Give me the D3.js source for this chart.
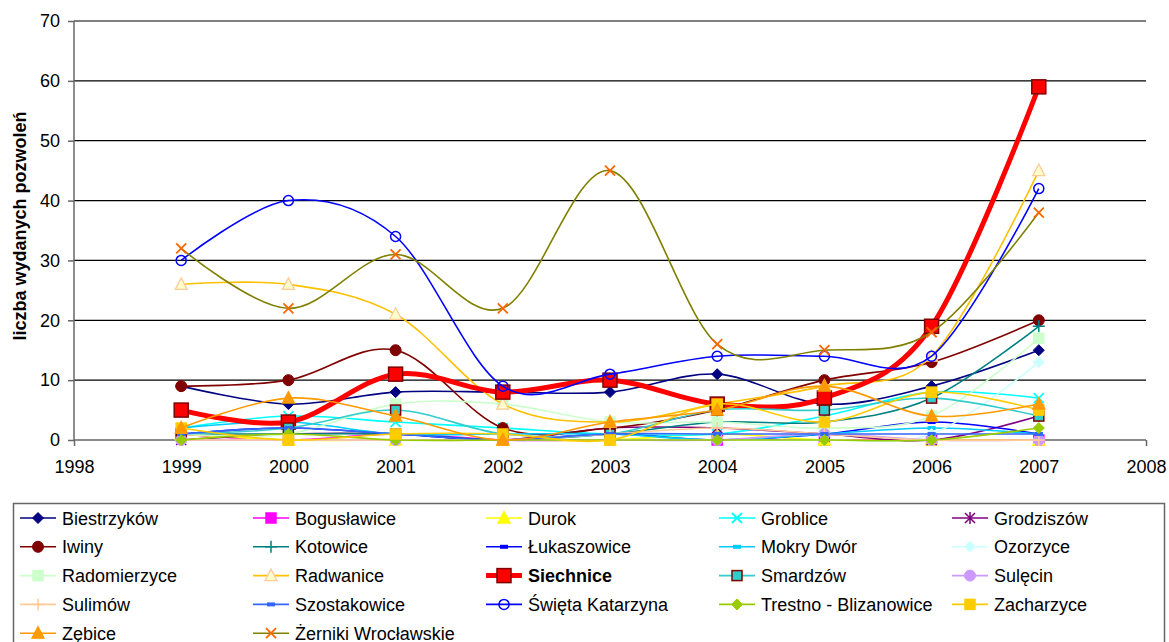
<!DOCTYPE html>
<html>
<head>
<meta charset="utf-8">
<script src="https://cdn.jsdelivr.net/npm/d3@7"></script>
<style>
  body { margin: 0; background: #fff; }
  svg { font-family: "Liberation Sans", Arial, sans-serif; }
</style>
</head>
<body>
<div id="chart"></div>
<script>
// lata na osi X i podpisy osi
const years = [1999, 2000, 2001, 2002, 2003, 2004, 2005, 2006, 2007];
const xTicks = [1998, 1999, 2000, 2001, 2002, 2003, 2004, 2005, 2006, 2007, 2008];
const yTicks = [0, 10, 20, 30, 40, 50, 60, 70];

const names = [
  "Biestrzyków", "Bogusławice", "Durok", "Groblice", "Grodziszów",
  "Iwiny", "Kotowice", "Łukaszowice", "Mokry Dwór", "Ozorzyce",
  "Radomierzyce", "Radwanice", "Siechnice", "Smardzów", "Sulęcin",
  "Sulimów", "Szostakowice", "Święta Katarzyna", "Trestno - Blizanowice", "Zacharzyce",
  "Zębice", "Żerniki Wrocławskie"
];

// liczba wydanych pozwoleń, 1999-2007
const biestrzykow   = [9, 6, 8, 8, 8, 11, 6, 9, 15];
const boguslawice   = [1, 0, 1, 0, 0, 0, 0, 0, 0];
const durok         = [1, 0, 0, 0, 0, 1, 0, 0, 0];
const groblice      = [2, 4, 3, 2, 1, 1, 4, 8, 7];
const grodziszow    = [0, 1, 1, 0, 2, 2, 1, 0, 4];
const iwiny         = [9, 10, 15, 2, 2, 5, 10, 13, 20];
const kotowice      = [1, 1, 1, 0, 1, 3, 3, 7, 19];
const lukaszowice   = [1, 2, 1, 0, 1, 0, 1, 3, 1];
const mokryDwor     = [2, 3, 1, 1, 1, 0, 1, 2, 1];
const ozorzyce      = [0, 0, 0, 0, 0, 0, 0, 1, 13];
const radomierzyce  = [1, 1, 6, 6, 3, 3, 2, 4, 17];
const radwanice     = [26, 26, 21, 6, 3, 6, 9, 14, 45];
const siechnice     = [5, 3, 11, 8, 10, 6, 7, 19, 59];
const smardzow      = [1, 2, 5, 1, 1, 5, 5, 7, 4];
const sulecin       = [0, 0, 0, 0, 0, 0, 1, 0, 0];
const sulimow       = [0, 0, 0, 0, 1, 2, 1, 0, 0];
const szostakowice  = [1, 2, 1, 0, 1, 1, 1, 1, 1];
const swietaKat     = [30, 40, 34, 9, 11, 14, 14, 14, 42];
const trestno       = [0, 1, 0, 0, 0, 0, 0, 0, 2];
const zacharzyce    = [2, 0, 1, 1, 0, 6, 3, 8, 5];
const zebice        = [2, 7, 4, 0, 3, 5, 9, 4, 6];
const zerniki       = [32, 22, 31, 22, 45, 16, 15, 18, 38];

const values = [
  biestrzykow, boguslawice, durok, groblice, grodziszow,
  iwiny, kotowice, lukaszowice, mokryDwor, ozorzyce,
  radomierzyce, radwanice, siechnice, smardzow, sulecin,
  sulimow, szostakowice, swietaKat, trestno, zacharzyce,
  zebice, zerniki
];

// wygląd serii (linia, znacznik)
const styles = [
  {line: "#000080", m: "diamond", fill: "#000080", stroke: "#000080"},
  {line: "#ff00ff", m: "square",  fill: "#ff00ff", stroke: "#ff00ff"},
  {line: "#ffff00", m: "triangle",fill: "#ffff00", stroke: "#ffff00"},
  {line: "#00ffff", m: "x",       fill: "none",    stroke: "#00ffff"},
  {line: "#800080", m: "star",    fill: "none",    stroke: "#800080"},
  {line: "#800000", m: "circle",  fill: "#800000", stroke: "#800000"},
  {line: "#008080", m: "plus",    fill: "none",    stroke: "#008080"},
  {line: "#0000ff", m: "dash",    fill: "#0000ff", stroke: "#0000ff"},
  {line: "#00ccff", m: "dash",    fill: "#00ccff", stroke: "#00ccff"},
  {line: "#ccffff", m: "diamond", fill: "#ccffff", stroke: "#ccffff"},
  {line: "#ccffcc", m: "square",  fill: "#ccffcc", stroke: "#ccffcc"},
  {line: "#ffc000", m: "otriangle", fill: "#ffffcc", stroke: "#ffcc99"},
  {line: "#ff0000", m: "bigsquare", fill: "#ff0000", stroke: "#800000", w: 5},
  {line: "#33cccc", m: "square",  fill: "#33cccc", stroke: "#800000"},
  {line: "#cc99ff", m: "circle",  fill: "#cc99ff", stroke: "#cc99ff"},
  {line: "#ffcc99", m: "plus",    fill: "none",    stroke: "#ffcc99"},
  {line: "#3366ff", m: "dash",    fill: "#3366ff", stroke: "#3366ff"},
  {line: "#0000ff", m: "ocircle", fill: "none",    stroke: "#0000ff"},
  {line: "#99cc00", m: "diamond", fill: "#99cc00", stroke: "#99cc00"},
  {line: "#ffcc00", m: "square",  fill: "#ffcc00", stroke: "#ffcc00"},
  {line: "#ff9900", m: "triangle",fill: "#ff9900", stroke: "#ff9900"},
  {line: "#808000", m: "x",       fill: "none",    stroke: "#ff6600"}
];

const width = 1169;
const height = 642;

const svg = d3.select("#chart")
  .append("svg")
  .attr("width", width)
  .attr("height", height);

const x = d3.scaleLinear().domain([1998, 2008]).range([74, 1146]);
const y = d3.scaleLinear().domain([0, 70]).range([440, 21]);

// siatka
svg.append("g")
  .selectAll("line")
  .data(yTicks.filter(d => d > 0))
  .enter()
  .append("line")
  .attr("x1", x(1998)).attr("x2", x(2008))
  .attr("y1", d => y(d)).attr("y2", d => y(d))
  .attr("stroke", "#000").attr("stroke-width", 1.2);

// osie
const yAxis = svg.append("g")
  .attr("transform", "translate(74,0)")
  .call(d3.axisLeft(y).tickValues(yTicks).tickSize(6).tickPadding(8));

const xAxis = svg.append("g")
  .attr("transform", "translate(0,440)")
  .call(d3.axisBottom(x).tickValues(xTicks).tickFormat(d3.format("d")).tickSize(6).tickPadding(14));

[yAxis, xAxis].forEach(a => {
  a.select(".domain").attr("stroke", "#666").attr("stroke-width", 1.5);
  a.selectAll(".tick line").attr("stroke", "#666").attr("stroke-width", 1.5);
  a.selectAll("text")
    .attr("font-family", "Liberation Sans, Arial, sans-serif")
    .attr("font-size", 18)
    .attr("fill", "#000");
});
xAxis.select(".domain").attr("d", `M${x(1998)},0H${x(2008)}`);
yAxis.select(".domain").attr("d", `M0,${y(0)}V${y(70)}`);

svg.append("text")
  .attr("transform", "translate(26,226) rotate(-90)")
  .attr("text-anchor", "middle")
  .attr("font-size", 18)
  .attr("font-weight", "bold")
  .text("liczba wydanych pozwoleń");

// znaczniki
function drawMarker(g, st, cx, cy) {
  const m = st.m;
  if (m === "diamond") {
    g.append("path").attr("d", `M${cx},${cy - 5.5}L${cx + 5.5},${cy}L${cx},${cy + 5.5}L${cx - 5.5},${cy}Z`)
      .attr("fill", st.fill).attr("stroke", st.stroke);
  } else if (m === "square") {
    g.append("rect").attr("x", cx - 5).attr("y", cy - 5).attr("width", 10).attr("height", 10)
      .attr("fill", st.fill).attr("stroke", st.stroke).attr("stroke-width", 1.5);
  } else if (m === "bigsquare") {
    g.append("rect").attr("x", cx - 7).attr("y", cy - 7).attr("width", 14).attr("height", 14)
      .attr("fill", st.fill).attr("stroke", st.stroke).attr("stroke-width", 1.5);
  } else if (m === "triangle" || m === "otriangle") {
    g.append("path").attr("d", `M${cx},${cy - 6.5}L${cx + 6},${cy + 5}L${cx - 6},${cy + 5}Z`)
      .attr("fill", st.fill).attr("stroke", st.stroke).attr("stroke-width", 1.3);
  } else if (m === "circle") {
    g.append("circle").attr("cx", cx).attr("cy", cy).attr("r", 5.5)
      .attr("fill", st.fill).attr("stroke", st.stroke);
  } else if (m === "ocircle") {
    g.append("circle").attr("cx", cx).attr("cy", cy).attr("r", 5)
      .attr("fill", "none").attr("stroke", st.stroke).attr("stroke-width", 1.5);
  } else if (m === "x") {
    g.append("path").attr("d", `M${cx - 5},${cy - 5}L${cx + 5},${cy + 5}M${cx - 5},${cy + 5}L${cx + 5},${cy - 5}`)
      .attr("stroke", st.stroke).attr("stroke-width", 1.8);
  } else if (m === "plus") {
    g.append("path").attr("d", `M${cx - 6},${cy}H${cx + 6}M${cx},${cy - 6}V${cy + 6}`)
      .attr("stroke", st.stroke).attr("stroke-width", 1.5);
  } else if (m === "star") {
    g.append("path").attr("d", `M${cx - 5},${cy - 5}L${cx + 5},${cy + 5}M${cx - 5},${cy + 5}L${cx + 5},${cy - 5}M${cx},${cy - 6}V${cy + 6}`)
      .attr("stroke", st.stroke).attr("stroke-width", 1.5);
  } else if (m === "dash") {
    g.append("rect").attr("x", cx - 4).attr("y", cy - 2).attr("width", 8).attr("height", 4)
      .attr("fill", st.fill);
  }
}

const line = d3.line()
  .x((d, i) => x(years[i]))
  .y(d => y(d))
  .curve(d3.curveCatmullRom.alpha(0));

const plot = svg.append("g");

values.forEach((vals, k) => {
  const st = styles[k];
  const g = plot.append("g");
  g.append("path")
    .datum(vals)
    .attr("d", line)
    .attr("fill", "none")
    .attr("stroke", st.line)
    .attr("stroke-width", st.w || 1.6);
  vals.forEach((v, i) => drawMarker(g, st, x(years[i]), y(v)));
});

// legenda
const legend = svg.append("g");
legend.append("rect")
  .attr("x", 13.5).attr("y", 503.5)
  .attr("width", 1151).attr("height", 160)
  .attr("fill", "#fff").attr("stroke", "#666").attr("stroke-width", 1.5);

names.forEach((name, k) => {
  const st = styles[k];
  const col = k % 5;
  const row = Math.floor(k / 5);
  const lx = 20 + col * 233;
  const ly = 518 + row * 28.8;
  const g = legend.append("g");
  g.append("line")
    .attr("x1", lx).attr("x2", lx + 36)
    .attr("y1", ly).attr("y2", ly)
    .attr("stroke", st.line)
    .attr("stroke-width", st.w || 1.6);
  drawMarker(g, st, lx + 18, ly);
  g.append("text")
    .attr("x", lx + 42)
    .attr("y", ly + 6.5)
    .attr("font-size", 18)
    .attr("font-weight", name === "Siechnice" ? "bold" : "normal")
    .text(name);
});
</script>
</body>
</html>
